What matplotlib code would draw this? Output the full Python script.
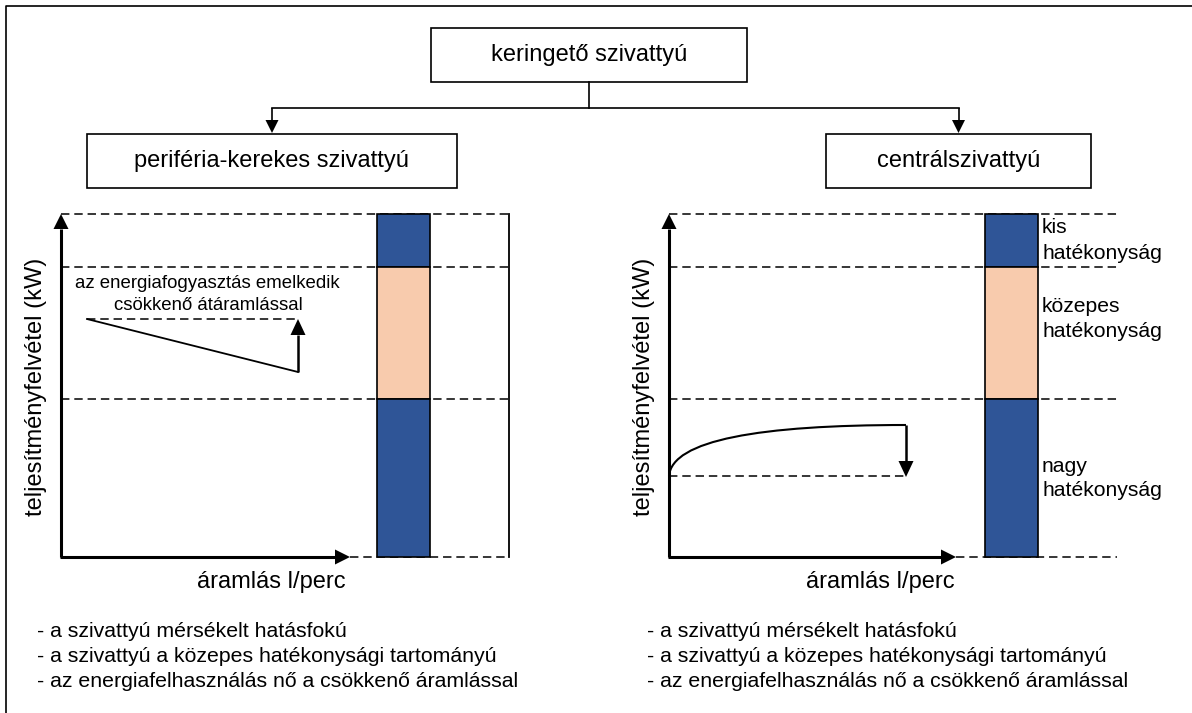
import matplotlib
matplotlib.use('Agg')
import matplotlib.pyplot as plt
from matplotlib.path import Path
from matplotlib.patches import PathPatch

plt.rcParams['font.family'] = ['Liberation Sans', 'DejaVu Sans']

W, H = 1192, 713

# hierarchy boxes (pixel positions)
box_titles = ['keringető szivattyú', 'periféria-kerekes szivattyú', 'centrálszivattyú']
box_x = [(431, 747), (87, 457), (826, 1091)]
box_y = [(28, 82), (134, 188), (134, 188)]
branch_y = 108

# efficiency bands (top to bottom) shared by both panels
band_edges = [214, 267, 399, 557]
band_colors = ['#2F5597', '#F8CBAD', '#2F5597']
band_names = [['kis', 'hatékonyság'], ['közepes', 'hatékonyság'], ['nagy', 'hatékonyság']]
band_label_y = [[233, 259], [312, 337], [472, 496]]

# panels: y-axis x, x-axis arrow end, bar span, end of dashed guides
panel_axis_x = [61, 669]
panel_axis_end = [350, 956]
panel_bar = [(377, 430), (985, 1038)]
panel_dash_end = [509, 1117]
xlabel_x = [271, 880]

# left panel: power rises as flow drops
peri_x = [87, 298]
peri_y = [319, 372]
# right panel: power falls as flow drops (bezier control points)
centr_x = [669, 672, 760, 906]
centr_y = [476, 440, 425, 425]

notes = ['- a szivattyú mérsékelt hatásfokú',
         '- a szivattyú a közepes hatékonysági tartományú',
         '- az energiafelhasználás nő a csökkenő áramlással']
notes_x = [37, 647]
notes_y = [637, 662, 687]

fig = plt.figure(figsize=(W / 100, H / 100), dpi=100)
ax = fig.add_axes([0, 0, 1, 1])
ax.set_xlim(0, W)
ax.set_ylim(H, 0)
ax.axis('off')

dash = (0, (5.5, 3.2))


def arrow(x0, y0, x1, y1, lw=2.2, hl=15, hw=7.5):
    # straight line with a filled triangular head at (x1, y1)
    dx, dy = x1 - x0, y1 - y0
    n = (dx ** 2 + dy ** 2) ** 0.5
    ux, uy = dx / n, dy / n
    bx, by = x1 - ux * hl, y1 - uy * hl
    ax.plot([x0, bx], [y0, by], color='black', lw=lw, solid_capstyle='butt')
    ax.fill([x1, bx - uy * hw, bx + uy * hw], [y1, by + ux * hw, by - ux * hw],
            color='black', lw=0)


# outer frame (only left and top edges are inside the picture)
ax.plot([6, 6, W], [H, 6, 6], color='black', lw=1.2)

# boxes
for t, (x0, x1), (y0, y1) in zip(box_titles, box_x, box_y):
    ax.add_patch(plt.Rectangle((x0, y0), x1 - x0, y1 - y0, fill=False,
                               ec='black', lw=1.2))
    ax.text((x0 + x1) / 2, (y0 + y1) / 2, t, ha='center', va='center', fontsize=17)

top_cx = sum(box_x[0]) / 2
left_cx = sum(box_x[1]) / 2
right_cx = sum(box_x[2]) / 2
ax.plot([top_cx, top_cx], [box_y[0][1], branch_y], color='black', lw=1.2)
ax.plot([left_cx, right_cx], [branch_y, branch_y], color='black', lw=1.2)
arrow(left_cx, branch_y, left_cx, box_y[1][0] - 1, lw=1.2, hl=13, hw=6.5)
arrow(right_cx, branch_y, right_cx, box_y[2][0] - 1, lw=1.2, hl=13, hw=6.5)

# panels
for i in range(2):
    x0 = panel_axis_x[i]
    bl, br = panel_bar[i]
    xe = panel_dash_end[i]
    for yv in band_edges[:-1]:
        ax.plot([x0, xe], [yv, yv], color='black', lw=1.1, ls=dash)
    ax.plot([panel_axis_end[i], xe], [band_edges[-1]] * 2, color='black', lw=1.1, ls=dash)
    for c, y0, y1 in zip(band_colors, band_edges[:-1], band_edges[1:]):
        ax.add_patch(plt.Rectangle((bl, y0), br - bl, y1 - y0, fc=c,
                                   ec='black', lw=1.2, zorder=3))
    arrow(x0, band_edges[-1], x0, band_edges[0], lw=2.2)
    arrow(x0 - 1, band_edges[-1], panel_axis_end[i], band_edges[-1], lw=2.2)
    ax.text(x0 - 25, 387, 'teljesítményfelvétel (kW)', rotation=90,
            ha='center', va='center', fontsize=17)
    ax.text(xlabel_x[i], 588, 'áramlás l/perc', ha='center', va='baseline', fontsize=17)
    for j, line in enumerate(notes):
        ax.text(notes_x[i], notes_y[j], line, ha='left', va='baseline', fontsize=15.3)

# left panel extra frame line
ax.plot([panel_dash_end[0]] * 2, [band_edges[0], band_edges[-1]], color='black', lw=1.3)

# left panel annotation
ax.plot(peri_x, peri_y, color='black', lw=1.3)
ax.plot(peri_x, [peri_y[0]] * 2, color='black', lw=1.1, ls=dash)
arrow(peri_x[1], peri_y[1], peri_x[1], peri_y[0], lw=1.8, hl=16, hw=7.5)
ax.text(207, 288, 'az energiafogyasztás emelkedik', ha='center', va='baseline', fontsize=13.4)
ax.text(208, 310, 'csökkenő átáramlással', ha='center', va='baseline', fontsize=13.4)

# right panel curve
curve = Path(list(zip(centr_x, centr_y)),
             [Path.MOVETO, Path.CURVE4, Path.CURVE4, Path.CURVE4])
ax.add_patch(PathPatch(curve, fill=False, ec='black', lw=1.5))
ax.plot([centr_x[0], centr_x[-1]], [centr_y[0], centr_y[0]], color='black', lw=1.1, ls=dash)
arrow(centr_x[-1], centr_y[-1], centr_x[-1], centr_y[0] + 1, lw=1.8, hl=16, hw=7.5)

# band labels
for names, ys in zip(band_names, band_label_y):
    for n, yv in zip(names, ys):
        ax.text(panel_bar[1][1] + 4, yv, n, ha='left', va='baseline', fontsize=15.2)

fig.savefig('out.png', dpi=100)
